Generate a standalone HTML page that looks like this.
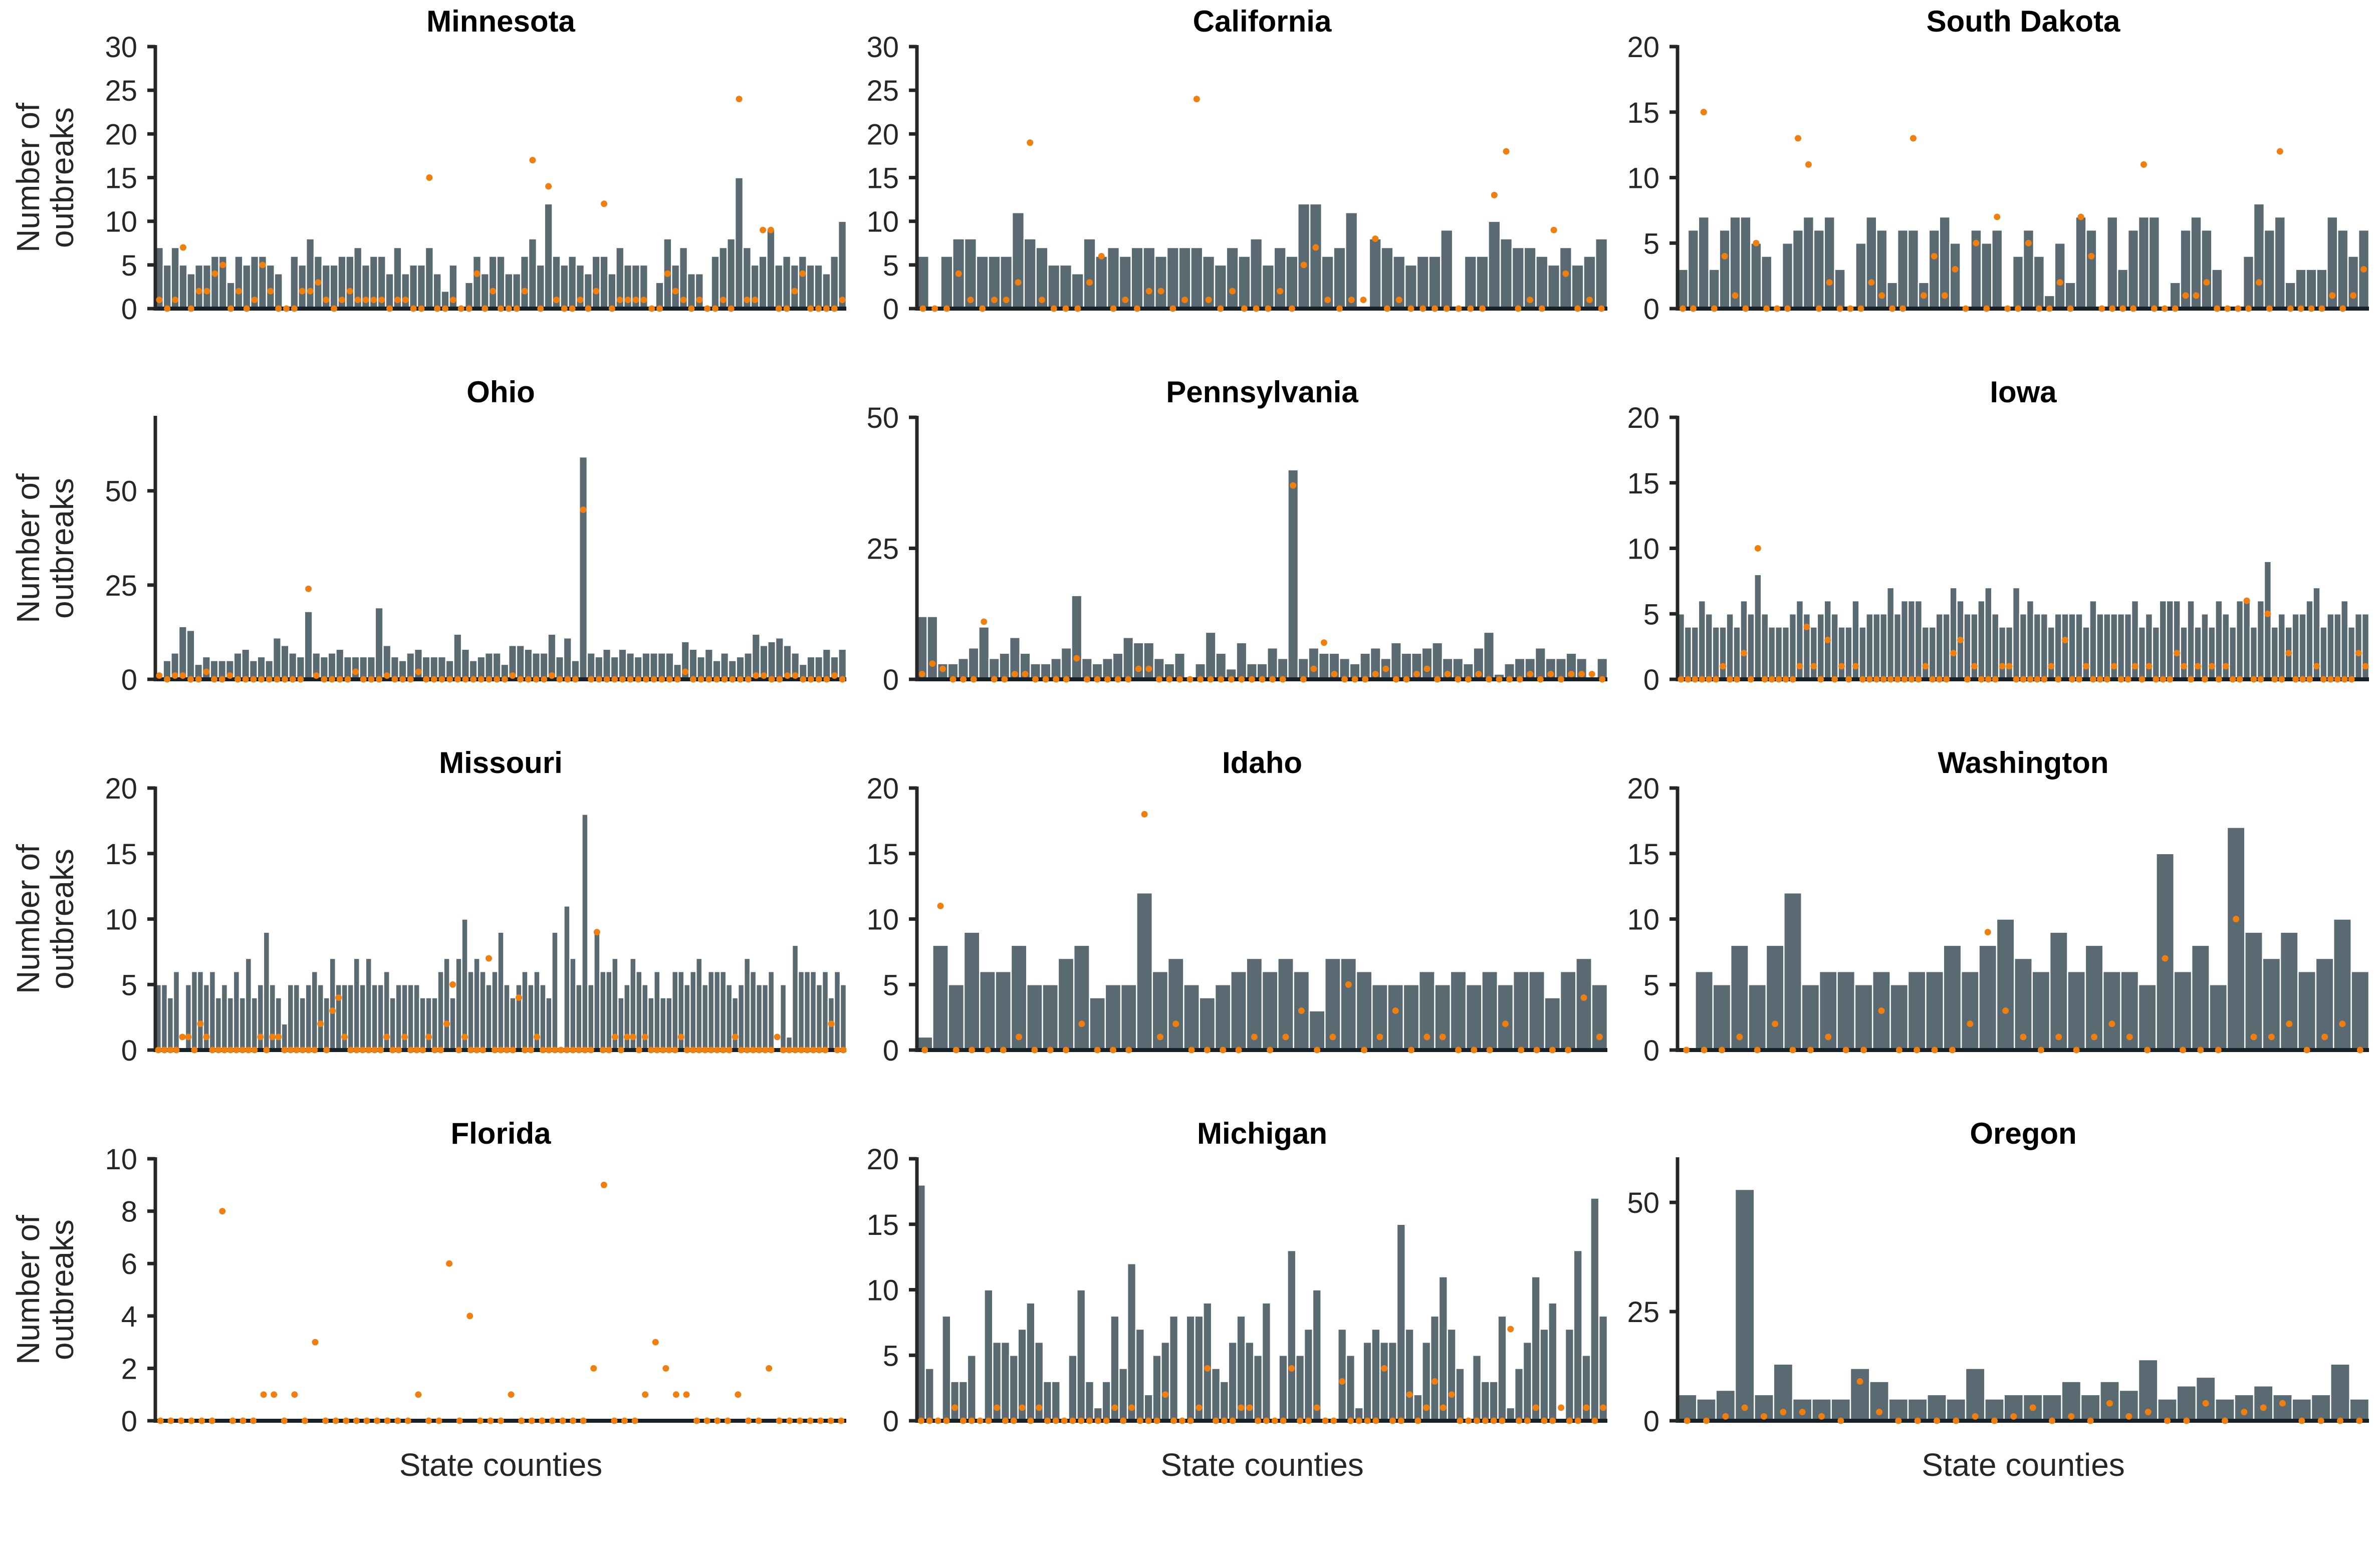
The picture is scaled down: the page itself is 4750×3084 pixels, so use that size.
<!DOCTYPE html>
<html>
<head>
<meta charset="utf-8">
<style>
  html, body { margin: 0; padding: 0; background: #ffffff; }
  svg { display: block; }
  text { font-family: "Liberation Sans", sans-serif; }
</style>
</head>
<body>
<svg id="chart" width="4750" height="3084" viewBox="0 0 4750 3084" xmlns="http://www.w3.org/2000/svg"></svg>
<script>
// ---------- data ----------
const stateNames = ["Minnesota","California","South Dakota","Ohio","Pennsylvania","Iowa","Missouri","Idaho","Washington","Florida","Michigan","Oregon"];
const yMaxes = [30,30,20,69.5,50,20,20,20,20,10,20,60];
const mnTicks = [0,5,10,15,20,25,30];
const caTicks = [0,5,10,15,20,25,30];
const sdTicks = [0,5,10,15,20];
const ohTicks = [0,25,50];
const paTicks = [0,25,50];
const iaTicks = [0,5,10,15,20];
const moTicks = [0,5,10,15,20];
const idTicks = [0,5,10,15,20];
const waTicks = [0,5,10,15,20];
const flTicks = [0,2,4,6,8,10];
const miTicks = [0,5,10,15,20];
const orTicks = [0,25,50];

const mnBars = [7,5,7,5,4,5,5,6,6,3, 6,5,6,6,5,4,0,6,5,8, 6,5,5,6,6,7,5,6,6,4, 7,4,5,5,7,4,2,5,0,3, 6,4,6,6,4,4,6,8,5,12, 6,5,6,5,4,6,6,4,7,5, 5,5,0,3,8,5,7,4,4,0, 6,7,8,15,7,5,6,9,5,6, 5,6,5,5,4,6,10];
const mnDots = [1,0,1,7,0,2,2,4,5,0, 2,0,1,5,2,0,0,0,2,2, 3,1,0,1,2,1,1,1,1,0, 1,1,0,0,15,0,0,1,0,0, 4,0,2,0,0,0,2,17,0,14, 1,0,0,1,0,2,12,0,1,1, 1,1,0,0,4,2,1,0,1,0, 0,1,0,24,1,1,9,9,0,0, 2,4,0,0,0,0,1];

const caBars = [6,0,6,8,8,6,6,6,11,8, 7,5,5,4,8,6,7,6,7,7, 6,7,7,7,6,5,7,6,8,5, 7,6,12,12,6,7,11,0,8,7, 6,5,6,6,9,0,6,6,10,8, 7,7,6,5,7,5,6,8];
const caDots = [0,0,0,4,1,0,1,1,3,19, 1,0,0,0,3,6,0,1,0,2, 2,0,1,24,1,0,2,0,0,0, 2,0,5,7,1,0,1,1,8,0, 1,0,0,0,0,0,0,0,13,18, 0,1,0,9,4,0,1,0];

const sdBars = [3,6,7,3,6,7,7,5,4,0, 5,6,7,6,7,3,0,5,7,6, 2,6,6,2,6,7,5,0,6,5, 6,0,4,6,4,1,5,2,7,6, 0,7,3,6,7,7,0,2,6,7, 6,3,0,0,4,8,6,7,2,3, 3,3,7,6,4,6];
const sdDots = [0,0,15,0,4,1,0,5,0,0, 0,13,11,0,2,0,0,0,2,1, 0,0,13,1,4,1,3,0,5,0, 7,0,0,5,0,0,2,0,7,4, 0,0,0,0,11,0,0,0,1,1, 2,0,0,0,0,2,0,12,0,0, 0,0,1,0,1,3];

const ohBars = [0,5,7,14,13,4,6,5,5,5, 7,8,5,6,5,11,9,7,6,18, 7,6,7,8,6,6,6,6,19,9, 6,5,7,8,6,6,6,5,12,8, 5,6,7,7,4,9,9,8,7,7, 12,6,11,5,59,7,6,8,6,8, 7,6,7,7,7,7,4,10,8,6, 8,5,7,5,6,7,12,9,10,11, 9,7,4,6,6,8,6,8];
const ohDots = [1,0,1,1,0,0,2,0,0,1, 0,0,0,0,0,0,0,0,0,24, 1,0,0,0,0,2,0,0,0,1, 0,0,0,2,0,0,0,0,0,0, 0,0,0,0,0,1,0,0,0,0, 1,0,0,0,45,0,0,0,0,0, 0,0,0,0,0,0,0,2,0,0, 0,0,0,0,0,0,1,1,0,0, 1,1,0,0,0,0,1,0];

const paBars = [12,12,3,3,4,6,10,4,5,8, 5,3,3,4,6,16,4,3,4,5, 8,7,7,4,3,5,0,3,9,5, 2,7,3,3,6,4,40,4,6,5, 5,4,3,5,6,4,7,5,5,6, 7,4,4,3,6,9,1,3,4,4, 6,4,4,5,4,0,4];
const paDots = [1,3,2,0,0,0,11,0,0,1, 1,0,0,0,0,4,0,0,0,0, 0,2,2,0,0,0,0,0,0,0, 0,0,0,0,0,0,37,0,2,7, 1,0,0,0,1,2,0,0,1,2, 0,1,0,0,1,0,0,0,0,1, 0,1,0,1,1,1,0];

const iaBars = [5,4,4,6,5,4,4,5,4,6, 5,8,5,4,4,4,5,6,5,4, 5,6,5,4,4,6,4,5,5,5, 7,5,6,6,6,4,4,5,5,7, 6,5,5,6,7,5,4,4,7,5, 6,5,5,4,5,5,5,5,4,6, 5,5,5,5,5,6,4,5,4,6, 6,6,4,6,4,5,4,6,5,4, 6,6,4,6,9,4,5,4,5,5, 6,7,4,5,5,6,4,5,5];
const iaDots = [0,0,0,0,0,0,1,0,0,2, 0,10,0,0,0,0,0,1,4,1, 0,3,0,1,0,1,0,0,0,0, 0,0,0,0,0,1,0,0,0,2, 3,0,1,0,0,0,1,1,0,0, 0,0,0,1,0,3,0,0,1,0, 0,0,1,0,0,1,0,1,0,0, 0,2,1,0,1,0,1,0,1,0, 0,6,0,0,5,0,0,2,0,0, 0,1,0,0,0,0,0,2,1];

const moBars = [5,5,4,6,0,5,6,6,5,6, 4,5,4,6,4,7,4,5,9,5, 4,2,5,5,4,5,6,5,4,7, 5,5,5,7,5,7,5,5,6,4, 5, 5,5,5,4,4,4,6,7,4,7, 10,6,7,6,5,6,9,5,4,5, 6,5,6,5,4,9,0,11,7,5, 18,5,9,6,6,7,4,5,7,6, 5,4,6,4,4,6,6,5,6,7, 5,6,6,6,5,4,5,7,6,5, 5,6,0,5,1,8,6,6,6,5, 6,4,6,5];
const moDots = [0,0,0,0,1,1,0,2,1,0, 0,0,0,0,0,0,0,1,0,1, 1,0,0,0,0,0,0,2,0,3, 4,1,0,0,0,0,0,0,1,0, 0,1,0,0,0,1,0,0,2,5, 0,1,0,0,0,7,0,0,0,0, 4,0,0,1,0,0,0,0,0,0, 0,0,0,9,0,0,1,0,1,1, 0,1,0,0,0,0,0,1,0,0, 0,0,0,0,0,0,1,0,0,0, 0,0,0,1,0,0,0,0,0,0, 0,0,2,0,0];

const idBars = [1,8,5,9,6,6,8,5,5,7, 8,4,5,5,12,6,7,5,4,5, 6,7,6,7,6,3,7,7,6,5, 5,5,6,5,6,5,6,5,6,6, 4,6,7,5];
const idDots = [0,11,0,0,0,0,1,0,0,0, 2,0,0,0,18,1,2,0,0,0, 0,1,0,1,3,0,1,5,0,1, 3,0,1,1,0,0,0,2,0,0, 0,0,4,1];

const waBars = [0,6,5,8,5,8,12,5,6,6, 5,6,5,6,6,8,6,8,10,7, 6,9,6,8,6,6,5,15,6,8, 5,17,9,7,9,6,7,10,6];
const waDots = [0,0,0,1,0,2,0,0,1,0, 0,3,0,0,0,0,2,9,3,1, 0,1,0,1,2,1,0,7,0,0, 0,10,1,1,2,0,1,2,0];

const flBars = [0,0,0,0,0,0,0,0,0,0, 0,0,0,0,0,0,0,0,0,0, 0,0,0,0,0,0,0,0,0,0, 0,0,0,0,0,0,0,0,0,0, 0,0,0,0,0,0,0,0,0,0, 0,0,0,0,0,0,0,0,0,0, 0,0,0,0,0,0,0];
const flDots = [0,0,0,0,0,0,8,0,0,0, 1,1,0,1,0,3,0,0,0,0, 0,0,0,0,0,1,0,0,6,0, 4,0,0,0,1,0,0,0,0,0, 0,0,2,9,0,0,0,1,3,2, 1,1,0,0,0,0,1,0,0,2, 0,0,0,0,0,0,0];

const miBars = [18,4,0,8,3,3,5,0,10,6, 6,5,7,9,6,3,3,0,5,10, 3,1,3,8,4,12,7,2,5,6, 8,0,8,8,9,4,3,6,8,6, 5,9,0,5,13,5,7,10,0,0, 7,5,1,6,7,6,6,15,7,2, 6,8,11,7,4,0,5,3,3,8, 1,4,6,11,7,9,0,7,13,5, 17,8];
const miDots = [0,0,0,0,1,0,0,0,0,1, 0,0,1,0,1,0,0,0,0,0, 0,0,0,1,0,1,0,0,0,2, 0,0,0,1,4,0,0,0,1,1, 0,0,0,0,4,0,0,1,0,0, 3,0,0,0,0,4,0,0,2,0, 1,3,1,2,0,0,0,0,0,0, 7,0,0,1,0,0,1,0,0,1, 0,1];

const orBars = [6,5,7,53,6,13,5,5,5,12, 9,5,5,6,5,12,5,6,6,6, 9,6,9,7,14,5,8,10,5,6, 8,6,5,6,13,5];
const orDots = [0,0,1,3,1,2,2,1,0,9, 2,0,0,0,0,1,0,1,3,0, 1,0,4,1,2,0,0,4,0,2, 3,4,0,0,0,0];

const allBars = [mnBars,caBars,sdBars,ohBars,paBars,iaBars,moBars,idBars,waBars,flBars,miBars,orBars];
const allDots = [mnDots,caDots,sdDots,ohDots,paDots,iaDots,moDots,idDots,waDots,flDots,miDots,orDots];
const allTicks = [mnTicks,caTicks,sdTicks,ohTicks,paTicks,iaTicks,moTicks,idTicks,waTicks,flTicks,miTicks,orTicks];

// ---------- layout ----------
const colLeft = [310, 1830, 3348];
const colRight = [1689, 3208, 4728];
const rowTop = [93, 833, 1573, 2313];
const rowZero = [616, 1356, 2096, 2836];
const NS = "http://www.w3.org/2000/svg";
const svg = document.getElementById('chart');

function mk(tag, attrs, parent) {
  const el = document.createElementNS(NS, tag);
  for (const k in attrs) el.setAttribute(k, attrs[k]);
  parent.appendChild(el);
  return el;
}

for (let p = 0; p < 12; p++) {
  const col = p % 3, row = Math.floor(p / 3);
  const x0 = colLeft[col], x1 = colRight[col];
  const yTop = rowTop[row], yZero = rowZero[row];
  const ymax = yMaxes[p];
  const yScale = v => yZero - (v / ymax) * (yZero - yTop);
  const bars = allBars[p], dots = allDots[p];
  const n = bars.length;
  const band = (x1 - x0) / n;
  const xScale = i => x0 + i * band;

  const g = mk('g', {}, svg);
  
  

  // title
  const t = mk('text', {x: (x0 + x1) / 2, y: yTop - 30, 'text-anchor': 'middle', 'font-size': 60, 'font-weight': 'bold', fill: '#000'}, g);
  t.textContent = stateNames[p];
  
  

  // bars
  for (let i = 0; i < n; i++) {
    if (bars[i] <= 0) continue;
    const yb = yScale(bars[i]);
    const r = mk('rect', {x: xScale(i), y: yb, width: band, height: yZero - yb, fill: '#5a6a72', stroke: '#ffffff', 'stroke-width': 2.5}, g);
    
    
  }

  // baseline
  const bl = mk('line', {x1: x0, x2: x1, y1: yZero, y2: yZero, stroke: '#182127', 'stroke-width': 8}, g);
  
  

  // y axis spine
  const sp = mk('line', {x1: x0, x2: x0, y1: yTop - 3, y2: yZero + 4, stroke: '#262626', 'stroke-width': 7}, g);
  
  

  // ticks
  const ticks = allTicks[p];
  for (let k = 0; k < ticks.length; k++) {
    const ty = yScale(ticks[k]);
    const tk = mk('line', {x1: x0 - 16, x2: x0, y1: ty, y2: ty, stroke: '#262626', 'stroke-width': 7}, g);
    
    
    const tl = mk('text', {x: x0 - 36, y: ty + 21, 'text-anchor': 'end', 'font-size': 58, fill: '#262626'}, g);
    tl.textContent = String(ticks[k]);
    
    
  }

  // dots
  for (let i = 0; i < dots.length; i++) {
    const c = mk('circle', {cx: xScale(i) + band / 2, cy: yScale(dots[i]), r: 6.5, fill: '#f07f0e'}, g);
    
    
  }

  // y axis title on first column
  if (col === 0) {
    const cy = (yTop + yZero) / 2;
    const l1 = mk('text', {x: 0, y: 0, transform: 'translate(78,' + cy + ') rotate(-90)', 'text-anchor': 'middle', 'font-size': 64, fill: '#262626'}, g);
    l1.textContent = 'Number of';
    
    
    const l2 = mk('text', {x: 0, y: 0, transform: 'translate(146,' + cy + ') rotate(-90)', 'text-anchor': 'middle', 'font-size': 64, fill: '#262626'}, g);
    l2.textContent = 'outbreaks';
    
    
  }

  // x axis title on bottom row
  if (row === 3) {
    const xl = mk('text', {x: (x0 + x1) / 2, y: 2946, 'text-anchor': 'middle', 'font-size': 64, fill: '#262626'}, g);
    xl.textContent = 'State counties';
    
    
  }
}
</script>
</body>
</html>
